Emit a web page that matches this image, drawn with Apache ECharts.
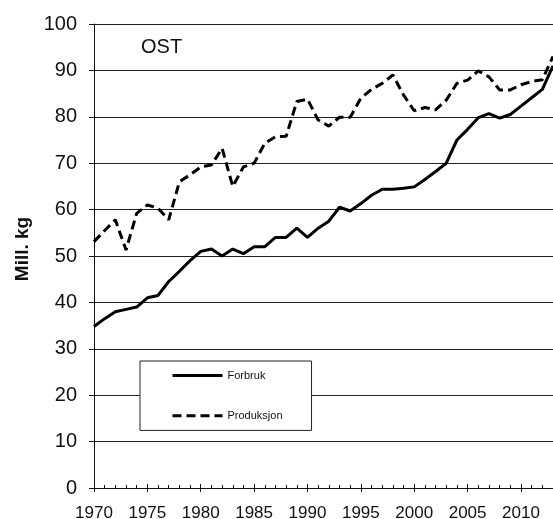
<!DOCTYPE html>
<html>
<head>
<meta charset="utf-8">
<script src="https://cdn.jsdelivr.net/npm/echarts@6/dist/echarts.min.js"></script>
<style>
  html, body { margin: 0; padding: 0; background: #fff; }
  #chart { width: 553px; height: 519px; }
</style>
</head>
<body>
<div id="chart"></div>
<script>
// år 1970 - 2013
const years = [];
for (let y = 1970; y <= 2013; y++) years.push(y);

const forbruk = [
  34.8, 36.5, 38, 38.5, 39, 41, 41.5, 44.5, 46.7, 49,
  51, 51.5, 50, 51.5, 50.5, 52, 52, 54, 54, 56,
  54, 56, 57.5, 60.5, 59.7, 61.3, 63.1, 64.4, 64.4, 64.6,
  64.9, 66.5, 68.2, 70, 75, 77.3, 79.8, 80.7, 79.7, 80.5,
  82.3, 84.1, 85.9, 91
];
const produksjon = [
  53.1, 55.5, 57.8, 51.3, 59.2, 61, 60.3, 57.8, 66, 67.5,
  69.2, 69.6, 73.2, 65, 69.2, 70, 74.3, 75.7, 75.8, 83.3,
  83.8, 79.3, 78, 79.9, 79.9, 84, 85.9, 87.2, 89, 84.7,
  81.3, 82, 81.5, 83.6, 87.2, 87.9, 89.9, 88.6, 85.8, 85.8,
  86.9, 87.6, 88, 93
];

const chart = echarts.init(document.getElementById('chart'));

const toPairs = arr => arr.map((v, i) => [years[i], v]);

chart.setOption({
  animation: false,
  textStyle: { fontFamily: 'Liberation Sans, Arial, sans-serif' },
  grid: { left: 94, right: 0, top: 24, bottom: 31, outerBoundsMode: 'none' },
  title: {
    text: 'OST',
    left: 136,
    top: 32,
    textStyle: { fontSize: 20, fontWeight: 'normal', color: '#111' }
  },
  legend: {
    orient: 'vertical',
    left: 140,
    top: 361,
    padding: [9, 29, 9, 31],
    itemGap: 29,
    itemWidth: 50,
    itemHeight: 14,
    backgroundColor: '#fff',
    borderColor: '#222',
    borderWidth: 1,
    borderRadius: 0,
    itemStyle: { opacity: 0 },
    lineStyle: { width: 3 },
    textStyle: { fontSize: 11, color: '#111' },
    data: ['Forbruk', 'Produksjon']
  },
  xAxis: [
    {
      type: 'value',
      min: 1970,
      max: 2013,
      interval: 5,
      axisLine: { show: true, lineStyle: { color: '#111', width: 1 } },
      axisTick: { show: true, inside: true, length: 4, lineStyle: { color: '#111' } },
      minorTick: { show: true, splitNumber: 5, length: 3, lineStyle: { color: '#111' } },
      splitLine: { show: false },
      axisLabel: {
        fontSize: 17,
        color: '#111',
        margin: 17,
        showMaxLabel: false,
        formatter: v => String(v)
      }
    },
    {
      // ekstra aksen for hovedticks under linja
      type: 'value',
      position: 'top',
      offset: -464,
      min: 1970,
      max: 2013,
      interval: 5,
      axisLine: { show: false },
      axisTick: { show: true, inside: true, length: 4, lineStyle: { color: '#111' } },
      splitLine: { show: false },
      axisLabel: { show: false }
    }
  ],
  yAxis: {
    type: 'value',
    min: 0,
    max: 100,
    interval: 10,
    name: 'Mill. kg',
    nameLocation: 'middle',
    nameRotate: 90,
    nameGap: 62,
    nameTextStyle: { fontSize: 19, fontWeight: 'bold', color: '#111', padding: [0, 0, 0, 14] },
    axisLine: { show: true, lineStyle: { color: '#111', width: 1 } },
    axisTick: { show: true, length: 5, lineStyle: { color: '#111' } },
    splitLine: { show: true, lineStyle: { color: '#222', width: 1 } },
    axisLabel: { fontSize: 20, color: '#111', margin: 17 }
  },
  series: [
    {
      name: 'Forbruk',
      type: 'line',
      data: toPairs(forbruk),
      symbol: 'none',
      lineStyle: { color: '#000', width: 3 },
      itemStyle: { color: '#000' }
    },
    {
      name: 'Produksjon',
      type: 'line',
      data: toPairs(produksjon),
      symbol: 'none',
      lineStyle: { color: '#000', width: 3, type: [9, 5] },
      itemStyle: { color: '#000' }
    }
  ]
});
</script>
</body>
</html>
